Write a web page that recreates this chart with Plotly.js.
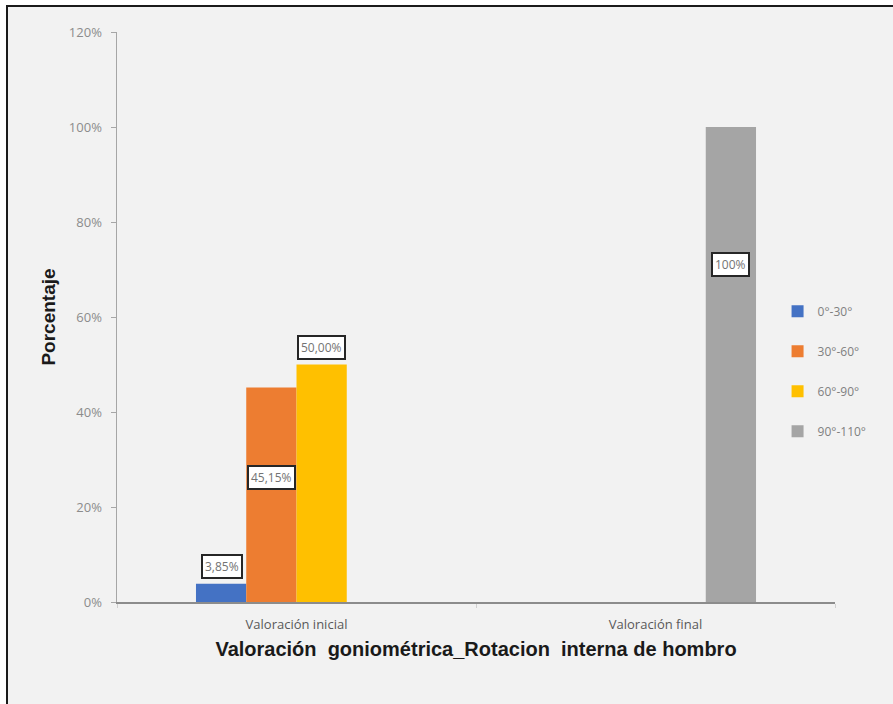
<!DOCTYPE html>
<html>
<head>
<meta charset="utf-8">
<script src="https://cdn.plot.ly/plotly-3.0.1.min.js"></script>
<style>
  html, body { margin: 0; padding: 0; background: #ffffff; }
  #chart { width: 893px; height: 704px; }
</style>
</head>
<body>
<div id="chart"></div>
<script>
// Goniometric ranges of internal shoulder rotation, initial vs final assessment (%)
const categories = ['Valoración inicial', 'Valoración final'];
const seriesNames = ['0°-30°', '30°-60°', '60°-90°', '90°-110°'];
const serie0a30 = [3.85, 0];
const serie30a60 = [45.15, 0];
const serie60a90 = [50.00, 0];
const serie90a110 = [0, 100];
const labelTexts = ['3,85%', '45,15%', '50,00%', '100%'];

const seriesValues = [serie0a30, serie30a60, serie60a90, serie90a110];
const colors = ['#4472C4', '#ED7D31', '#FFC000', '#A5A5A5'];

const baseFamily = 'Open Sans, Liberation Sans, sans-serif';

const traces = seriesValues.map((vals, i) => ({
  type: 'bar',
  name: seriesNames[i],
  x: categories,
  y: vals.map(v => v / 100),
  marker: { color: colors[i], line: { width: 0 } },
  legendgroup: 'g' + i,
  hoverinfo: 'skip'
}));

// data label placement: 'end' = just above the bar, a number = fraction of the bar height
const labelPlacement = ['end', 0.58, 'end', 0.71];
const slotOffsets = [-75, -25, 25, 75];

const annotations = [];
seriesValues.forEach((vals, i) => {
  vals.forEach((v, c) => {
    if (v <= 0) return;
    const place = labelPlacement[i];
    const atEnd = place === 'end';
    annotations.push({
      x: categories[c], xref: 'x',
      y: atEnd ? v / 100 : (v / 100) * place, yref: 'y',
      xshift: slotOffsets[i],
      yanchor: atEnd ? 'bottom' : 'middle',
      yshift: atEnd ? 5 : 0,
      text: labelTexts[i],
      showarrow: false,
      font: { family: baseFamily, size: 12, color: '#737373' },
      bgcolor: '#ffffff',
      bordercolor: '#262626',
      borderwidth: 2,
      borderpad: 2
    });
  });
});

const layout = {
  width: 893,
  height: 704,
  margin: { l: 117, r: 58, t: 32, b: 102, pad: 0 },
  paper_bgcolor: '#ffffff',
  plot_bgcolor: 'rgba(0,0,0,0)',
  barmode: 'group',
  bargap: 0.44,
  bargroupgap: 0,
  showlegend: true,
  legend: {
    x: 0.92, xanchor: 'left',
    y: 0.405, yanchor: 'middle',
    bgcolor: 'rgba(0,0,0,0)',
    font: { family: baseFamily, size: 12, color: '#808080' },
    tracegroupgap: 21,
    itemwidth: 30
  },
  xaxis: {
    type: 'category',
    showline: true, linecolor: '#8c8c8c', linewidth: 1.5,
    ticks: 'outside', tickson: 'boundaries', ticklen: 4, tickcolor: '#d0d0d0',
    ticklabelstandoff: 10,
    showgrid: false, zeroline: false,
    tickfont: { family: baseFamily, size: 13, color: '#595959' },
    title: {
      text: 'Valoración  goniométrica_Rotacion  interna de hombro',
      font: { family: 'Liberation Sans, Arial, sans-serif', size: 20, color: '#1a1a1a', weight: 'bold' },
      standoff: 10
    }
  },
  yaxis: {
    range: [0, 1.2],
    dtick: 0.2,
    tickformat: '.0%',
    showline: true, linecolor: '#a6a6a6', linewidth: 1.5,
    ticks: 'outside', ticklen: 5, tickcolor: '#a6a6a6',
    ticklabelstandoff: 6,
    showgrid: false, zeroline: false,
    tickfont: { family: baseFamily, size: 13, color: '#8c8c8c' },
    title: {
      text: 'Porcentaje',
      font: { family: 'Liberation Sans, Arial, sans-serif', size: 19, color: '#1a1a1a', weight: 'bold' },
      standoff: 8
    }
  },
  annotations: annotations,
  shapes: [{
    type: 'rect', xref: 'paper', yref: 'paper', layer: 'below',
    x0: -110 / 718, x1: 800 / 718,
    y0: -120 / 570, y1: 596 / 570,
    fillcolor: '#f2f2f2',
    line: { color: '#1a1a1a', width: 2 }
  }]
};

Plotly.newPlot('chart', traces, layout, { displayModeBar: false, staticPlot: true });
</script>
</body>
</html>
